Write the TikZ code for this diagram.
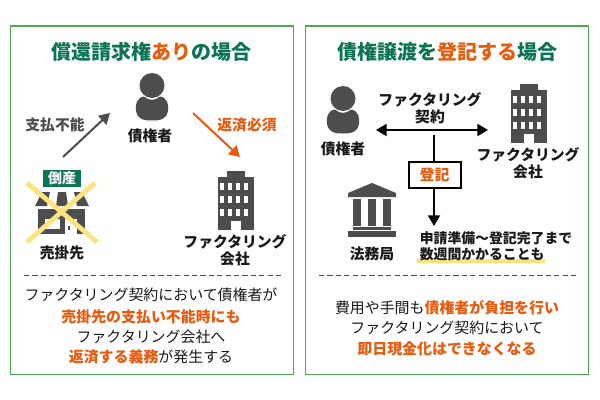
\documentclass[tikz,border=0pt]{standalone}
\usepackage{fontspec}
\setmainfont{Noto Sans CJK JP}
\usetikzlibrary{arrows.meta}
\definecolor{framegreen}{HTML}{4DAA50}
\definecolor{titlegreen}{HTML}{0B7453}
\definecolor{hotorange}{HTML}{E95A0C}
\definecolor{icongray}{HTML}{4D4D4D}
\definecolor{crossyellow}{HTML}{FFE27D}
\newcommand{\hot}[1]{{\bfseries\color{hotorange}#1}}
\tikzset{
  x=0.75pt,y=-0.75pt,
  panel/.style={draw=framegreen,line width=0.9pt,fill=white},
  sep/.style={draw=titlegreen,line width=0.75pt,dash pattern=on 3.9pt off 2.4pt},
  titletext/.style={font=\fontsize{15}{18}\selectfont\bfseries,text=titlegreen,inner sep=0pt,anchor=center},
  lab/.style={font=\fontsize{11.1}{12.6}\selectfont\bfseries,text=black!90,inner sep=0pt,align=center,anchor=center},
  bodytext/.style={font=\fontsize{11.2}{15}\selectfont,text=black!90,inner sep=0pt,anchor=center},
  bigtip/.style={-{Triangle[length=8pt,width=9pt]}},
  person/.pic={
    \fill[icongray] (0,-12.5) circle (12.5);
    \fill[icongray] (-16,13) .. controls (-17,6) and (-15,-0.5) .. (-8,-1.5)
      .. controls (-3,3) and (3,3) .. (8,-1.5)
      .. controls (15,-0.5) and (17,6) .. (16,13)
      .. controls (14,22) and (8,22.5) .. (0,22.5)
      .. controls (-8,22.5) and (-14,22) .. (-16,13) -- cycle;
  },
  tower/.pic={
    \fill[icongray] (9,-6) rectangle (27,0);
    \fill[icongray] (0,0) rectangle (36,53);
    \foreach \wx in {2.3,10.3,18.3,26.3}
      \foreach \wy in {6,19,32}
        \fill[white] (\wx,\wy) rectangle ++(3.6,6.5);
    \fill[white] (13,44) rectangle (23,53);
  }
}
\begin{document}
\begin{tikzpicture}
\useasboundingbox (0,0) rectangle (600,400);
\fill[white] (0,0) rectangle (600,400);
\draw[panel] (10.5,26) rectangle (293.5,374.5);
\draw[panel] (305.5,26) rectangle (588.5,374.5);

% left panel
\node[titletext] (t1) at (151,52) {償還請求権{\color{hotorange}あり}の場合};
\pic at (152,98) {person};
\node[lab] (debtor1) at (150,136) {債権者};
\node[lab,text=icongray] (unpaid) at (55,125) {支払不能};
\node[lab,text=hotorange] (repay) at (247,125) {返済必須};
\coordinate (a1) at (63,157); \coordinate (a2) at (110,113);
\coordinate (b1) at (193,113); \coordinate (b2) at (240,157);
\draw[icongray,line width=1.5pt,bigtip] (a1) -- (a2);
\draw[hotorange,line width=1.5pt,bigtip] (b1) -- (b2);
% store
\fill[icongray] (42,192) -- (50,192) -- (47,206) -- (35,206) -- cycle;
\fill[icongray] (58,192) -- (66,192) -- (68,206) -- (56,206) -- cycle;
\fill[icongray] (74,192) -- (82,192) -- (89,206) -- (77,206) -- cycle;
\fill[icongray] (38,209) rectangle (85,234);
\fill[white] (45,219) rectangle (60,229);
\fill[white] (65,219) rectangle (77,234);
\fill[icongray] (67.5,226) rectangle (69.5,230);
\node[fill=titlegreen,text=white,font=\fontsize{10.5}{12}\selectfont\bfseries,minimum width=28.5pt,minimum height=12.8pt,inner sep=0pt] (bankrupt) at (62,178.5) {倒産};
\draw[crossyellow,line width=3.6pt] (27,183) -- (97,242);
\draw[crossyellow,line width=3.6pt] (95,183) -- (27,242);
\node[lab] (seller) at (62,253) {売掛先};
\pic at (218,177) {tower};
\node[lab] (fc1) at (235,250) {ファクタリング\\会社};
\draw[sep] (24,275) -- (281,275);
\node[bodytext] (l1) at (151,295) {ファクタリング契約において債権者が};
\node[bodytext] (l2) at (151,316.5) {\hot{売掛先の支払い不能時にも}};
\node[bodytext] (l3) at (151,337) {ファクタリング会社へ};
\node[bodytext] (l4) at (151,357) {\hot{返済する義務}が発生する};

% right panel
\node[titletext] (t2) at (447,52) {債権譲渡を{\color{hotorange}登記する}場合};
\pic at (343,111) {person};
\node[lab] (debtor2) at (343,149) {債権者};
\pic at (511,90) {tower};
\node[lab] (fc2) at (528,163) {ファクタリング\\会社};
\node[lab] (contract) at (430,108.5) {ファクタリング\\契約};
\coordinate (c1) at (376,130); \coordinate (c2) at (488,130);
\draw[black,line width=1.5pt,{Triangle[length=8pt,width=9pt]}-{Triangle[length=8pt,width=9pt]}] (c1) -- (c2);
\coordinate (d1) at (434,135); \coordinate (d2) at (434,226);
\draw[black,line width=1.5pt,bigtip] (d1) -- (d2);
\node[draw=black,line width=1.5pt,fill=white,minimum width=39pt,minimum height=19.5pt,inner sep=0pt,font=\fontsize{11.2}{12}\selectfont\bfseries,text=hotorange] (reg) at (434.5,175) {登記};
% bureau
\fill[icongray] (372,183) -- (396,193) -- (396,197) -- (348,197) -- (348,193) -- cycle;
\fill[icongray] (353,199) rectangle (361,226);
\fill[icongray] (368,199) rectangle (376,226);
\fill[icongray] (383,199) rectangle (391,226);
\fill[icongray] (353,227) rectangle (391,230);
\fill[icongray] (348,231) rectangle (396,237);
\node[lab] (bureau) at (372,254) {法務局};
\draw[crossyellow,line width=2.4pt] (417,261) -- (545,261);
\node[lab,font=\fontsize{10.4}{12}\selectfont\bfseries,anchor=west] (w1) at (419.5,238) {申請準備\symbol{"FF5E}登記完了まで};
\node[lab,font=\fontsize{10.4}{12}\selectfont\bfseries,anchor=west] (w2) at (419.5,254) {数週間かかることも};
\draw[sep] (319,275) -- (576,275);
\node[bodytext] (r1) at (447,308) {費用や手間も\hot{債権者が負担を行い}};
\node[bodytext] (r2) at (447,328) {ファクタリング契約において};
\node[bodytext] (r3) at (447,348.5) {\hot{即日現金化はできなくなる}};
\end{tikzpicture}
\end{document}
